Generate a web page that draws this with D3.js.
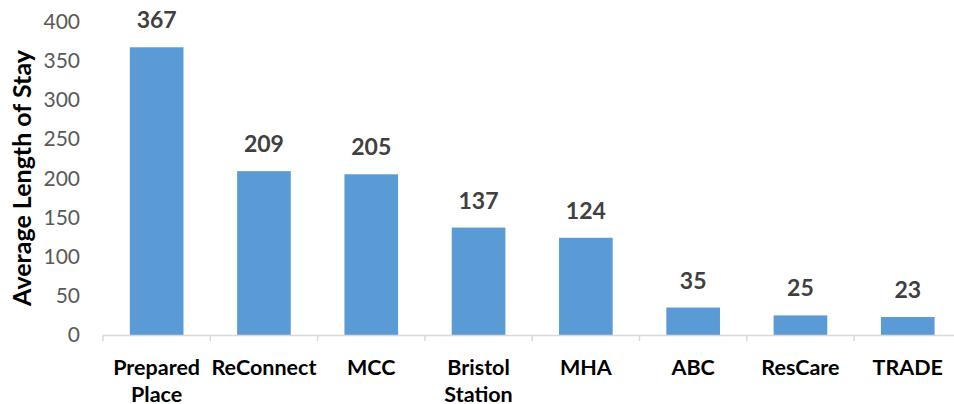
<!DOCTYPE html>
<html>
<head>
<meta charset="utf-8">
<script src="https://cdn.jsdelivr.net/npm/d3@7"></script>
<style>
  body { margin: 0; background: #fff; }
  svg { font-family: Lato, "Open Sans", sans-serif; }
</style>
</head>
<body>
<svg id="chart" width="954" height="404"></svg>
<script>
const categories = [["Prepared", "Place"], ["ReConnect"], ["MCC"], ["Bristol", "Station"], ["MHA"], ["ABC"], ["ResCare"], ["TRADE"]];
const values = [367, 209, 205, 137, 124, 35, 25, 23];
const yTicks = [0, 50, 100, 150, 200, 250, 300, 350, 400];

const barColor = "#5b9bd5";

const svg = d3.select("#chart");

const names = categories.map(c => c.join(" "));

const x = d3.scaleBand()
    .domain(names)
    .range([103, 961.4])
    .paddingInner(0.5)
    .paddingOuter(0.25);

const y = d3.scaleLinear()
    .domain([0, 400])
    .range([335, 21.4]);

// y tick labels (no axis line, no gridlines)
svg.selectAll(".ytick")
    .data(yTicks)
    .enter().append("text")
    .attr("class", "ytick")
    .attr("x", 80)
    .attr("y", d => y(d))
    .attr("dy", "0.35em")
    .attr("text-anchor", "end")
    .attr("font-size", "21px")
    .attr("fill", "#595959")
    .text(d => d);

// bars
svg.selectAll(".bar")
    .data(values)
    .enter().append("rect")
    .attr("class", "bar")
    .attr("x", (d, i) => x(names[i]))
    .attr("width", x.bandwidth())
    .attr("y", d => y(d))
    .attr("height", d => y(0) - y(d))
    .attr("fill", barColor);

// x axis line and ticks
const band = x.step();
svg.append("line")
    .attr("x1", 103).attr("x2", 961.4)
    .attr("y1", y(0) + 0.5).attr("y2", y(0) + 0.5)
    .attr("stroke", "#d9d9d9")
    .attr("stroke-width", 1.5);

svg.selectAll(".xtick")
    .data(d3.range(names.length + 1))
    .enter().append("line")
    .attr("class", "xtick")
    .attr("x1", i => 103 + i * band)
    .attr("x2", i => 103 + i * band)
    .attr("y1", y(0))
    .attr("y2", y(0) + 6)
    .attr("stroke", "#d9d9d9")
    .attr("stroke-width", 1.5);

// value labels
svg.selectAll(".val")
    .data(values)
    .enter().append("text")
    .attr("class", "val")
    .attr("x", (d, i) => x(names[i]) + x.bandwidth() / 2)
    .attr("y", d => y(d) - 27)
    .attr("dy", "0.35em")
    .attr("text-anchor", "middle")
    .attr("font-size", "23px")
    .attr("font-weight", "bold")
    .attr("fill", "#404040")
    .text(d => d);

// category labels
const catLabel = svg.selectAll(".cat")
    .data(categories)
    .enter().append("text")
    .attr("class", "cat")
    .attr("x", (d, i) => x(names[i]) + x.bandwidth() / 2)
    .attr("y", 367)
    .attr("text-anchor", "middle")
    .attr("font-size", "21.5px")
    .attr("font-weight", "bold")
    .attr("fill", "#000");

catLabel.selectAll("tspan")
    .data(d => d)
    .enter().append("tspan")
    .attr("x", function() { return d3.select(this.parentNode).attr("x"); })
    .attr("dy", (d, i) => i === 0 ? "0.35em" : "27px")
    .text(d => d);

// y axis title
svg.append("text")
    .attr("transform", "translate(22,178) rotate(-90)")
    .attr("dy", "0.35em")
    .attr("text-anchor", "middle")
    .attr("font-size", "25px")
    .attr("font-weight", "bold")
    .attr("fill", "#000")
    .text("Average Length of Stay");
</script>
</body>
</html>
